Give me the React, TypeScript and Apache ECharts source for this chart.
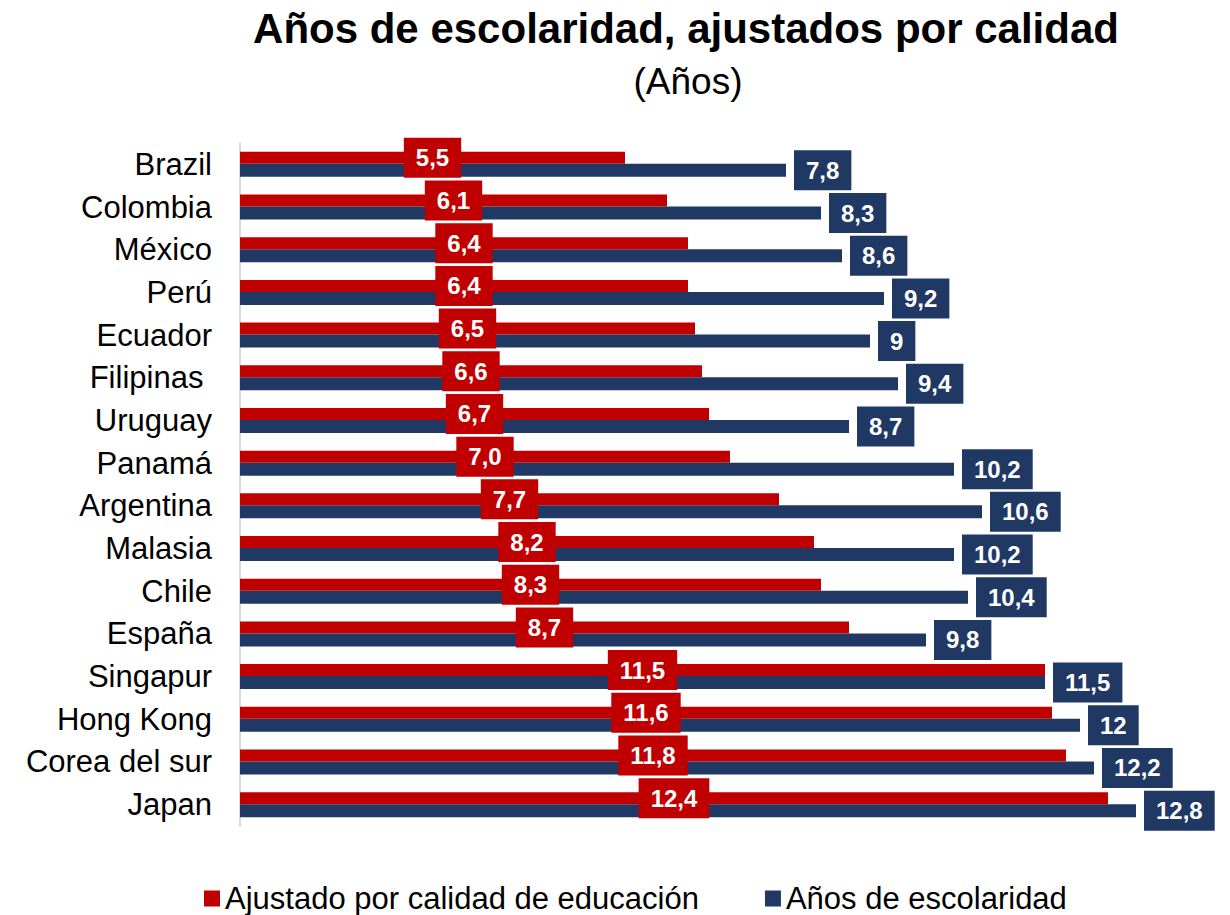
import React, { useEffect, useRef } from "react";
import * as echarts from "echarts";

const categories = [
  "Brazil", "Colombia", "México", "Perú", "Ecuador", "Filipinas ", "Uruguay", "Panamá",
  "Argentina", "Malasia", "Chile", "España", "Singapur", "Hong Kong", "Corea del sur", "Japan",
];
const ajustado = [5.5, 6.1, 6.4, 6.4, 6.5, 6.6, 6.7, 7.0, 7.7, 8.2, 8.3, 8.7, 11.5, 11.6, 11.8, 12.4];
const escolaridad = [7.8, 8.3, 8.6, 9.2, 9, 9.4, 8.7, 10.2, 10.6, 10.2, 10.4, 9.8, 11.5, 12, 12.2, 12.8];

const seriesNames = ["Ajustado por calidad de educación", "Años de escolaridad"];
const RED = "#C00000";
const BLUE = "#203864";
const FONT = "Liberation Sans, Arial, sans-serif";

export default function App() {
  const ref = useRef<HTMLDivElement>(null);
  useEffect(() => {
    if (!ref.current) return;
    const chart = echarts.init(ref.current, null, { renderer: "svg" });
    chart.setOption({
      animation: false,
      backgroundColor: "#ffffff",
      textStyle: { fontFamily: FONT },
      graphic: [
        {
          type: "text",
          x: 686,
          y: 28,
          style: {
            text: "Años de escolaridad, ajustados por calidad",
            font: `bold 42px ${FONT}`,
            fill: "#000",
            textAlign: "center",
            textVerticalAlign: "middle",
          },
        },
        {
          type: "text",
          x: 688,
          y: 81,
          style: {
            text: "(Años)",
            font: `37px ${FONT}`,
            fill: "#000",
            textAlign: "center",
            textVerticalAlign: "middle",
          },
        },
      ],
      legend: {
        left: 199,
        top: 878,
        itemWidth: 16,
        itemHeight: 16,
        itemGap: 66,
        icon: "rect",
        textStyle: { fontSize: 31, color: "#000", fontFamily: FONT },
        data: seriesNames,
      },
      grid: { left: 240, right: 10, top: 143, bottom: 89 },
      xAxis: {
        type: "value",
        min: 0,
        max: 14,
        show: false,
      },
      yAxis: {
        type: "category",
        inverse: true,
        data: categories,
        axisLine: { show: true, lineStyle: { color: "#D9D9D9", width: 2 } },
        axisTick: { show: false },
        axisLabel: { fontSize: 31, color: "#000", margin: 28, fontFamily: FONT },
      },
      series: [
        {
          name: seriesNames[0],
          type: "bar",
          data: ajustado,
          barWidth: 12,
          barGap: "0%",
          itemStyle: { color: RED },
          label: {
            show: true,
            position: "inside",
            formatter: (p: any) => Number(p.value).toFixed(1).replace(".", ","),
            color: "#fff",
            fontWeight: "bold",
            fontSize: 24,
            fontFamily: FONT,
            backgroundColor: RED,
            padding: [8, 12],
          },
          z: 3,
        },
        {
          name: seriesNames[1],
          type: "bar",
          data: escolaridad,
          barWidth: 13,
          barGap: "0%",
          itemStyle: { color: BLUE },
          label: {
            show: true,
            position: "right",
            distance: 8,
            formatter: (p: any) => String(p.value).replace(".", ","),
            color: "#fff",
            fontWeight: "bold",
            fontSize: 24,
            fontFamily: FONT,
            backgroundColor: BLUE,
            padding: [8, 12],
          },
          z: 2,
        },
      ],
    });
    return () => chart.dispose();
  }, []);
  return (
    <div
      ref={ref}
      style={{ position: "fixed", left: 0, top: 0, width: 1230, height: 915 }}
    />
  );
}
